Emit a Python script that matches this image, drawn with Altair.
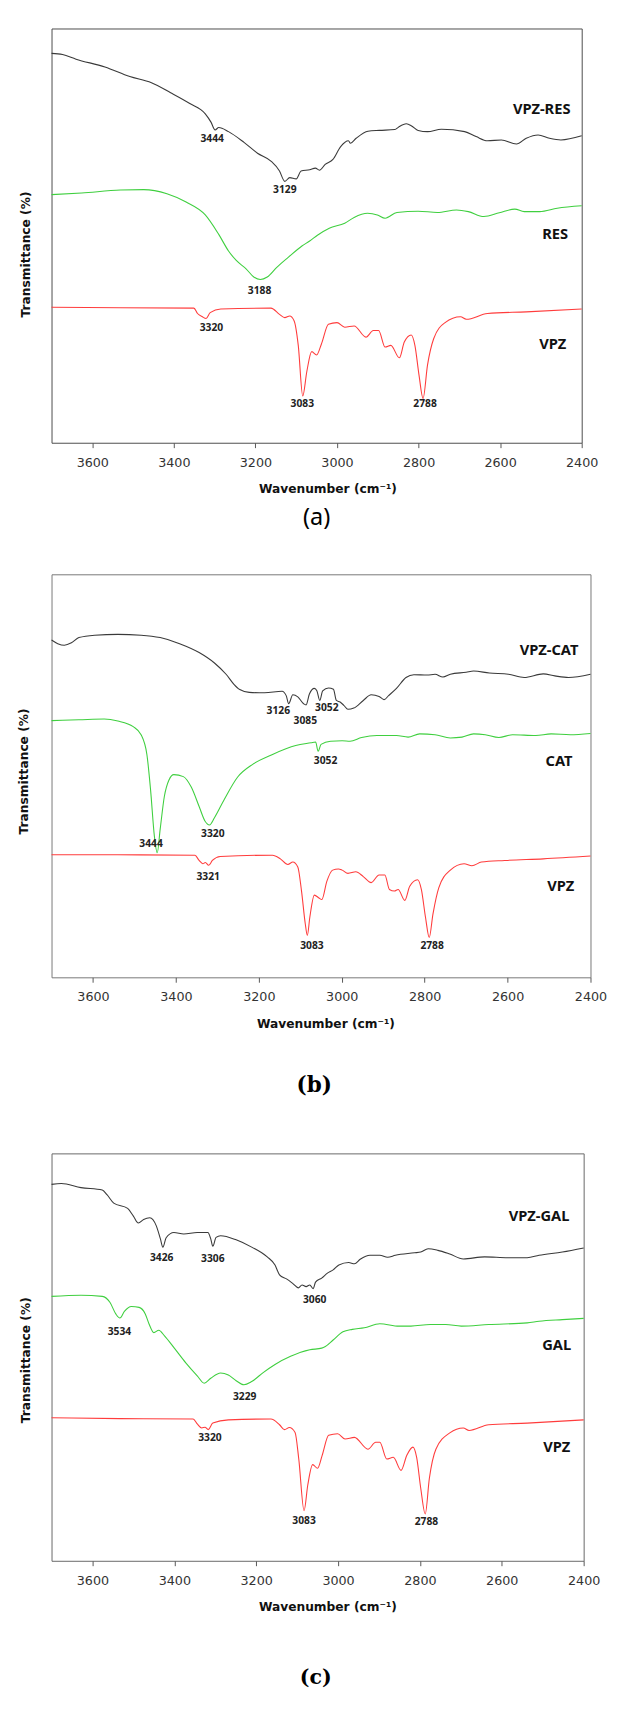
import altair as alt
import pandas as pd

WN_TICKS = [3600, 3400, 3200, 3000, 2800, 2600, 2400]
LINE_COLORS = ["#3a3a3a", "#3fcf3f", "#ff3c3c"]

# ---------------- panel (a) ----------------
a_vpzres_wn = [3700, 3673, 3640, 3569, 3508, 3455, 3408, 3361, 3323, 3309, 3299, 3290, 3266, 3228, 3195,
               3162, 3141, 3128, 3116, 3100, 3088, 3067, 3053, 3043, 3029, 3010, 2991, 2972, 2967, 2953,
               2924, 2896, 2858, 2849, 2830, 2816, 2801, 2778, 2744, 2687, 2659, 2631, 2597, 2560, 2536,
               2507, 2479, 2451, 2400]
a_vpzres_t = [94.0, 93.7, 92.6, 90.7, 88.4, 86.9, 84.5, 81.9, 79.4, 77.4, 75.5, 76.1, 75.1, 72.5, 69.9,
              68.0, 65.6, 63.1, 64.0, 63.7, 65.6, 65.9, 66.3, 65.8, 67.2, 68.4, 71.5, 72.9, 72.3, 73.5,
              75.2, 75.4, 75.6, 76.2, 77.0, 76.4, 75.4, 75.1, 75.7, 75.1, 73.9, 72.9, 73.1, 72.1, 73.5,
              74.3, 73.5, 73.1, 74.1]
a_res_wn = [3700, 3626, 3531, 3474, 3417, 3370, 3323, 3290, 3266, 3247, 3223, 3204, 3188, 3171, 3147,
            3119, 3086, 3067, 3048, 3019, 2981, 2958, 2925, 2901, 2882, 2853, 2801, 2754, 2707, 2678,
            2640, 2602, 2564, 2541, 2503, 2460, 2400]
a_res_t = [59.9, 60.3, 61.0, 61.1, 60.1, 58.1, 55.0, 50.3, 46.3, 44.0, 42.0, 40.0, 39.4, 40.0, 42.4,
           44.8, 47.5, 48.7, 50.1, 51.8, 53.0, 54.4, 55.4, 55.0, 54.2, 55.6, 55.9, 55.6, 56.2, 55.8,
           54.6, 55.5, 56.4, 55.8, 55.8, 56.6, 57.2]
a_vpz_wn = [3700, 3531, 3351, 3342, 3330, 3321, 3311, 3285, 3162, 3141, 3128, 3116, 3105, 3095, 3084,
            3074, 3062, 3050, 3038, 3021, 3000, 2981, 2958, 2929, 2911, 2898, 2882, 2868, 2847, 2835,
            2818, 2809, 2799, 2789, 2778, 2763, 2735, 2697, 2683, 2631, 2536, 2400]
a_vpz_t = [32.7, 32.6, 32.5, 31.2, 30.4, 30.0, 31.4, 32.3, 32.5, 31.0, 30.2, 30.6, 29.4, 23.5, 11.3,
           17.2, 22.0, 21.2, 23.9, 28.6, 29.0, 27.9, 28.2, 25.5, 27.1, 27.1, 23.1, 23.5, 20.5, 24.3,
           26.0, 23.5, 16.4, 10.7, 18.8, 25.1, 29.0, 30.4, 29.8, 31.2, 31.6, 32.3]
a_name_text = ["VPZ-RES", "RES", "VPZ"]
a_name_wn = [2498, 2465, 2471]
a_name_t = [80.6, 50.4, 23.8]
a_peak_text = ["3444", "3129", "3188", "3320", "3083", "2788"]
a_peak_wn = [3306, 3128, 3190, 3308, 3085, 2784]
a_peak_t = [73.2, 61.1, 36.7, 27.7, 9.4, 9.4]

# ---------------- panel (b) ----------------
b_vpzcat_wn = [3700, 3685, 3669, 3652, 3634, 3596, 3540, 3484, 3438, 3391, 3344, 3307, 3279, 3260, 3246,
               3223, 3186, 3144, 3134, 3128, 3118, 3106, 3092, 3086, 3078, 3066, 3060, 3053, 3046, 3032,
               3020, 3013, 3004, 2995, 2985, 2971, 2948, 2929, 2910, 2898, 2887, 2868, 2845, 2826, 2794,
               2775, 2756, 2738, 2700, 2682, 2644, 2598, 2560, 2514, 2486, 2453, 2400]
b_vpzcat_t = [83.7, 82.8, 82.4, 83.0, 84.3, 84.9, 85.1, 84.9, 84.3, 82.8, 80.6, 78.0, 75.2, 72.7, 71.4,
              70.7, 70.6, 71.0, 69.9, 67.9, 70.1, 69.6, 67.9, 67.6, 70.3, 71.7, 71.1, 68.7, 71.1, 71.8,
              71.5, 68.7, 68.3, 67.5, 66.5, 66.8, 68.7, 70.1, 69.7, 68.9, 69.9, 71.7, 74.4, 75.1, 75.0,
              75.2, 74.5, 75.2, 75.7, 76.0, 75.5, 75.2, 74.4, 75.3, 74.8, 74.4, 75.2]
b_cat_wn = [3700, 3634, 3573, 3540, 3503, 3484, 3470, 3461, 3452, 3445, 3438, 3428, 3417, 3405, 3382,
            3363, 3344, 3330, 3319, 3307, 3284, 3251, 3214, 3167, 3111, 3074, 3063, 3057, 3050, 3027,
            2999, 2980, 2952, 2915, 2868, 2840, 2812, 2775, 2738, 2710, 2682, 2654, 2621, 2588, 2532,
            2495, 2449, 2400]
b_cat_t = [63.7, 63.9, 64.1, 63.6, 62.2, 60.2, 55.3, 46.4, 35.1, 30.9, 36.7, 44.8, 48.9, 50.3, 49.8,
           47.2, 42.4, 38.8, 37.8, 39.6, 44.0, 49.7, 52.9, 55.3, 57.5, 58.2, 58.4, 56.1, 57.8, 58.6,
           58.7, 58.6, 59.5, 60.0, 60.0, 59.6, 60.4, 60.2, 59.4, 59.6, 60.4, 60.2, 59.5, 60.2, 60.0,
           60.4, 60.2, 60.5]
b_vpz_wn = [3700, 3540, 3354, 3344, 3335, 3329, 3321, 3312, 3293, 3167, 3148, 3130, 3118, 3106, 3097,
            3088, 3083, 3077, 3066, 3055, 3048, 3036, 3022, 3008, 2999, 2985, 2966, 2948, 2929, 2910,
            2896, 2885, 2873, 2864, 2848, 2836, 2817, 2808, 2798, 2789, 2780, 2766, 2738, 2705, 2686,
            2663, 2607, 2514, 2400]
b_vpz_t = [30.4, 30.4, 30.3, 29.0, 28.2, 28.5, 27.8, 29.0, 30.0, 30.3, 29.4, 28.0, 28.6, 27.4, 21.4,
           13.3, 10.4, 14.9, 20.4, 19.7, 19.3, 23.8, 26.6, 26.9, 26.6, 25.8, 26.2, 25.0, 23.5, 25.4,
           25.4, 21.8, 21.4, 21.8, 19.1, 22.6, 24.2, 21.8, 14.9, 9.9, 15.7, 22.2, 26.6, 28.2, 27.7,
           28.6, 29.0, 29.4, 30.1]
b_name_text = ["VPZ-CAT", "CAT", "VPZ"]
b_name_wn = [2500, 2476, 2472]
b_name_t = [81.1, 53.6, 22.6]
b_peak_text = ["3126", "3085", "3052", "3052", "3444", "3320", "3321", "3083", "2788"]
b_peak_wn = [3153, 3088, 3036, 3039, 3460, 3311, 3322, 3072, 2782]
b_peak_t = [66.0, 63.7, 66.8, 53.7, 33.1, 35.5, 25.0, 7.8, 7.8]

# ---------------- panel (c) ----------------
c_vpzgal_wn = [3700, 3676, 3628, 3576, 3564, 3548, 3514, 3500, 3488, 3475, 3460, 3444, 3434, 3428, 3420,
               3401, 3377, 3344, 3318, 3311, 3306, 3298, 3287, 3249, 3211, 3173, 3154, 3143, 3126, 3111,
               3097, 3088, 3078, 3069, 3061, 3055, 3040, 3026, 3012, 2998, 2974, 2960, 2946, 2922, 2898,
               2879, 2860, 2813, 2798, 2780, 2756, 2727, 2694, 2642, 2585, 2538, 2509, 2452, 2400]
c_vpzgal_t = [92.4, 92.6, 91.6, 91.0, 89.8, 87.8, 86.5, 84.6, 82.9, 83.8, 84.2, 82.2, 79.0, 77.0, 79.3,
              80.6, 80.2, 80.6, 80.6, 79.0, 77.2, 79.4, 79.8, 78.8, 77.0, 74.6, 72.6, 70.2, 69.2, 68.1,
              67.0, 67.7, 67.3, 67.7, 66.8, 68.4, 69.4, 70.6, 71.4, 72.6, 73.2, 72.9, 74.0, 75.0, 75.0,
              74.5, 75.0, 75.6, 75.8, 76.6, 76.2, 75.3, 74.1, 74.6, 74.4, 74.4, 75.0, 75.8, 76.8]
c_gal_wn = [3700, 3628, 3576, 3557, 3543, 3533, 3522, 3505, 3486, 3471, 3462, 3450, 3438, 3424, 3400,
            3372, 3344, 3327, 3311, 3287, 3268, 3249, 3230, 3211, 3183, 3154, 3116, 3069, 3040, 3031,
            3012, 2988, 2965, 2936, 2898, 2851, 2822, 2775, 2737, 2699, 2632, 2538, 2509, 2452, 2400]
c_gal_t = [64.9, 65.2, 64.9, 63.4, 60.6, 59.6, 61.2, 62.4, 62.2, 60.6, 58.2, 56.0, 56.6, 55.2, 52.2,
           48.6, 45.4, 43.6, 44.8, 46.1, 45.6, 44.2, 43.2, 44.0, 46.2, 48.2, 50.2, 51.8, 52.2, 52.6,
           54.2, 56.2, 56.8, 57.2, 58.2, 57.6, 57.6, 58.0, 58.0, 57.6, 58.0, 58.4, 58.8, 59.2, 59.5]
c_vpz_wn = [3700, 3533, 3354, 3344, 3333, 3325, 3317, 3306, 3268, 3164, 3143, 3131, 3119, 3105, 3096,
            3083, 3074, 3062, 3050, 3039, 3023, 3001, 2983, 2960, 2927, 2908, 2898, 2881, 2865, 2846,
            2832, 2817, 2808, 2798, 2787, 2777, 2761, 2727, 2694, 2680, 2632, 2538, 2400]
c_vpz_t = [35.1, 34.9, 34.8, 33.6, 32.6, 32.8, 32.2, 33.8, 34.6, 34.8, 33.4, 32.2, 32.7, 31.5, 25.0,
           12.3, 18.6, 23.6, 22.7, 25.8, 30.8, 31.2, 29.9, 30.3, 27.4, 29.1, 29.1, 25.0, 25.4, 22.2,
           25.9, 27.9, 25.4, 17.8, 11.5, 20.2, 27.4, 31.4, 32.6, 32.0, 33.4, 33.8, 34.6]
c_name_text = ["VPZ-GAL", "GAL", "VPZ"]
c_name_wn = [2509, 2466, 2466]
c_name_t = [84.6, 53.0, 27.8]
c_peak_text = ["3426", "3306", "3060", "3534", "3229", "3320", "3083", "2788"]
c_peak_wn = [3431, 3306, 3057, 3534, 3228, 3313, 3083, 2784]
c_peak_t = [74.2, 74.1, 64.1, 56.2, 40.2, 30.2, 9.8, 9.6]


def make_panel(series, names, peaks, width, height, left_px, ytitle_y, ytitle_pad, title, frame_color):
    rows = []
    for (name, wn, t), col in zip(series, LINE_COLORS):
        for w, v in zip(wn, t):
            rows.append({"series": name, "col": col, "wn": w, "t": v})
    df = pd.DataFrame(rows)
    ndf = pd.DataFrame({"wn": names[1], "t": names[2], "label": names[0]})
    pdf = pd.DataFrame({"wn": peaks[1], "t": peaks[2], "label": peaks[0]})

    x_enc = alt.X(
        "wn:Q",
        scale=alt.Scale(domain=[2400, 3700], reverse=True, nice=False, zero=False),
        axis=alt.Axis(
            values=WN_TICKS, format="d", title="Wavenumber (cm⁻¹)", grid=False, domain=False,
            tickSize=5, tickColor="#555555", tickWidth=1,
            labelFont="DejaVu Sans", labelFontSize=13, labelColor="#333333", labelPadding=9,
            labelFlush=False, labelOverlap=False,
            titleFont="DejaVu Sans", titleFontSize=12.5, titleFontWeight="bold", titleColor="#111111",
            titlePadding=14, titleX=331 - left_px, titleAlign="center",
        ),
    )
    y_enc = alt.Y(
        "t:Q",
        scale=alt.Scale(domain=[0, 100], nice=False, zero=False),
        axis=alt.Axis(
            title="Transmittance (%)", ticks=False, labels=False, domain=False, grid=False,
            titleFont="DejaVu Sans", titleFontSize=12.5, titleFontWeight="bold", titleColor="#111111",
            titlePadding=ytitle_pad, titleY=ytitle_y,
        ),
    )
    lines = alt.Chart(df).mark_line(strokeWidth=1.1, interpolate="monotone").encode(
        x=x_enc, y=y_enc,
        color=alt.Color("col:N", scale=None, legend=None),
        detail="series:N",
    )
    name_txt = alt.Chart(ndf).mark_text(
        font="Noto Sans", fontSize=15, fontWeight="bold", color="#111111", align="center", baseline="middle"
    ).encode(x=x_enc, y=y_enc, text="label:N")
    peak_txt = alt.Chart(pdf).mark_text(
        font="Noto Sans", fontSize=10.5, fontWeight="bold", color="#222222", align="center", baseline="middle"
    ).encode(x=x_enc, y=y_enc, text="label:N")
    return alt.layer(lines, name_txt, peak_txt).properties(
        width=width, height=height, title=title,
        view=alt.ViewBackground(stroke=frame_color, strokeWidth=1),
    )


panel_a = make_panel(
    [("VPZ-RES", a_vpzres_wn, a_vpzres_t), ("RES", a_res_wn, a_res_t), ("VPZ", a_vpz_wn, a_vpz_t)],
    (a_name_text, a_name_wn, a_name_t), (a_peak_text, a_peak_wn, a_peak_t),
    542, 423.5, 49, 230.5, 20,
    alt.TitleParams("(a)", orient="bottom", anchor="middle", frame="group", font="Noto Sans",
                    fontSize=24, fontWeight="normal", color="#000000", offset=12, baseline="top"),
    "#4a4a4a",
)
panel_b = make_panel(
    [("VPZ-CAT", b_vpzcat_wn, b_vpzcat_t), ("CAT", b_cat_wn, b_cat_t), ("VPZ", b_vpz_wn, b_vpz_t)],
    (b_name_text, b_name_wn, b_name_t), (b_peak_text, b_peak_wn, b_peak_t),
    551, 412, 51, 201, 22,
    alt.TitleParams("(b)", orient="bottom", anchor="middle", frame="group", font="DejaVu Serif",
                    fontSize=22, fontWeight="bold", color="#000000", offset=47, baseline="top", dx=-7,
                    subtitle=" ", subtitleFontSize=13, subtitlePadding=0),
    "#777777",
)
panel_c = make_panel(
    [("VPZ-GAL", c_vpzgal_wn, c_vpzgal_t), ("GAL", c_gal_wn, c_gal_t), ("VPZ", c_vpz_wn, c_vpz_t)],
    (c_name_text, c_name_wn, c_name_t), (c_peak_text, c_peak_wn, c_peak_t),
    544, 416.5, 49, 211, 20,
    alt.TitleParams("(c)", orient="bottom", anchor="middle", frame="group", font="DejaVu Serif",
                    fontSize=21, fontWeight="bold", color="#000000", offset=55, baseline="top", dx=-2),
    "#666666",
)

chart = (
    alt.vconcat(panel_a, panel_b, panel_c, spacing=43)
    .properties(padding={"left": 8.5, "top": 1, "right": 5, "bottom": 0})
    .configure(background="#ffffff")
    .configure_view(stroke="#5a5a5a", strokeWidth=1)
)

chart.save("out.html", embed_options={"renderer": "svg", "actions": False})
